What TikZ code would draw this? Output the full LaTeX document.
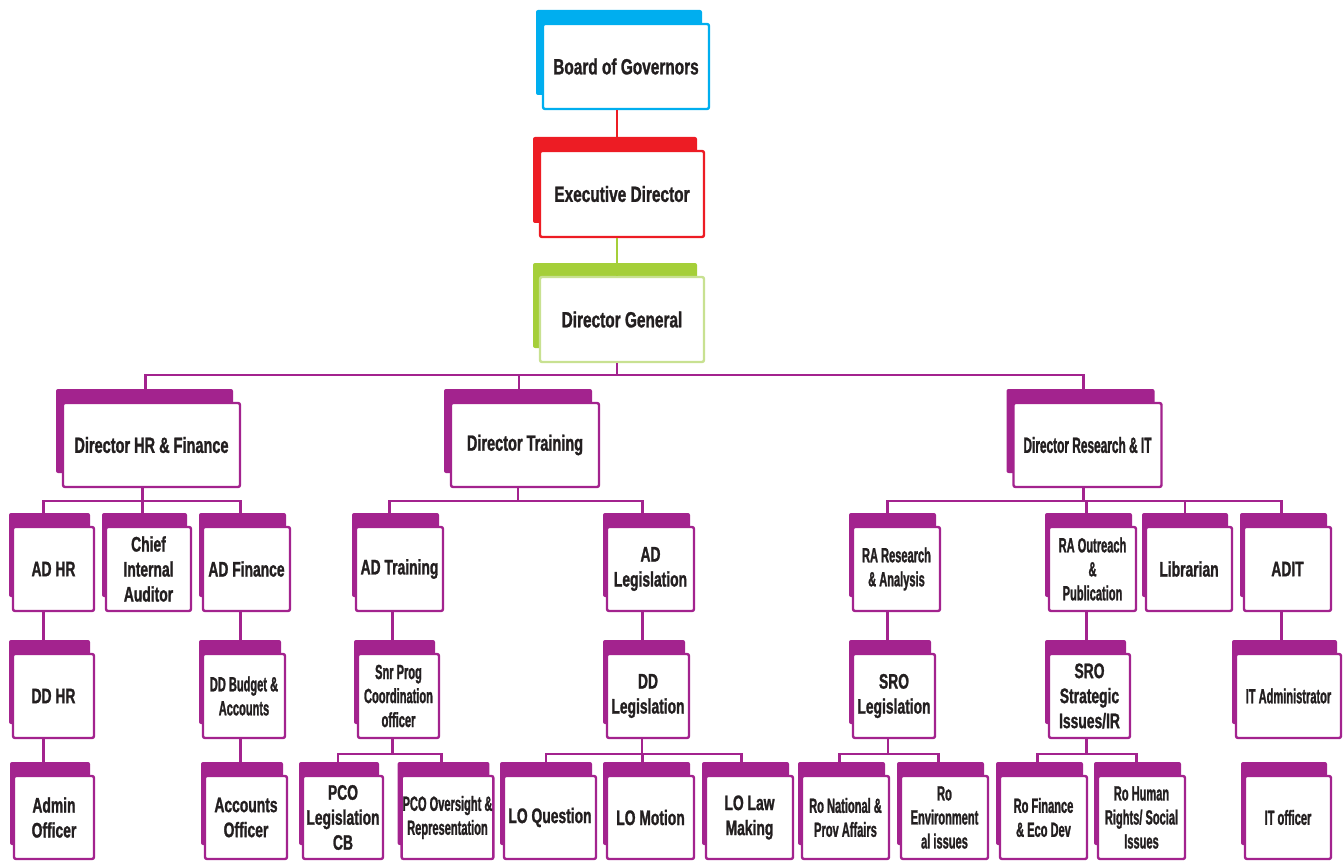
\documentclass[tikz,border=0pt]{standalone}
\usepackage{fontspec}
\setmainfont{Liberation Sans}
\newfontfamily\headfont[FakeStretch=0.70,FakeBold=1.2]{Liberation Sans}
\newfontfamily\cardfont[FakeStretch=0.66,FakeBold=1.2]{Liberation Sans}
\newfontfamily\slimfont[FakeStretch=0.54,FakeBold=1.2]{Liberation Sans}
\usetikzlibrary{shadows}
\definecolor{plum}{RGB}{163,35,142}
\definecolor{sky}{RGB}{0,174,239}
\definecolor{scarlet}{RGB}{237,28,36}
\definecolor{lime}{RGB}{165,207,57}
\definecolor{palelime}{RGB}{200,225,145}
\definecolor{ink}{RGB}{35,31,32}
\begin{document}
\begin{tikzpicture}[x=1pt,y=-1pt,
    box/.style={fill=white,line width=2.4pt,rounded corners=2pt,text=ink,align=center,inner sep=1pt},
    main/.style={box,draw=plum,minimum width=87pt,minimum height=84pt,
        font=\cardfont\bfseries\fontsize{21}{25}\selectfont,
        general shadow={fill=plum,shadow xshift=-4pt,shadow yshift=14pt}},
    slim/.style={main,font=\slimfont\bfseries\fontsize{20.5}{24}\selectfont},
    head/.style={box,minimum width=148pt,minimum height=84pt,
        font=\cardfont\bfseries\fontsize{22}{26}\selectfont,
        general shadow={fill=#1,shadow xshift=-7pt,shadow yshift=14pt}},
    top/.style={head=#1,draw=#1,font=\headfont\bfseries\fontsize{22}{26}\selectfont},
    link/.style={draw=plum,line width=2.2pt}]
    \useasboundingbox (0,0) rectangle (1344,861);
    % top of the chart
    \node[top=sky,minimum width=166pt,minimum height=85pt](bog) at (626,66.5){Board of Governors};
    \node[top=scarlet,minimum width=164pt,minimum height=86pt](exec) at (622,194){Executive Director};
    \node[top=lime,draw=palelime,minimum width=164pt,minimum height=85pt](dg) at (622,319.5){Director General};
    % directors
    \node[head=plum,draw=plum,minimum width=177pt](dhr) at (151.5,445){Director HR \& Finance};
    \node[head=plum,draw=plum](dtr) at (525,445){Director Training};
    \node[head=plum,draw=plum,font=\slimfont\bfseries\fontsize{22}{26}\selectfont](dres) at (1087.5,445){Director Research \& IT};
    % assistant directors
    \node[main,minimum width=81pt](adhr) at (53.5,569){AD HR};
    \node[main,minimum width=85pt](cia) at (148.5,569){Chief\\Internal\\Auditor};
    \node[main](adfin) at (246.5,569){AD Finance};
    \node[main](adtr) at (399.5,569){AD Training};
    \node[main](adleg) at (650.5,569){AD\\Legislation};
    \node[slim](rares) at (896.5,569){RA Research\\\& Analysis};
    \node[slim](raout) at (1092.5,569){RA Outreach\\\&\\Publication};
    \node[main,minimum width=86pt](lib) at (1189,569){Librarian};
    \node[main](adit) at (1287.5,569){ADIT};
    % deputies
    \node[main,minimum width=81pt](ddhr) at (53.5,696){DD HR};
    \node[slim,minimum width=82pt](ddbud) at (244,696){DD Budget \&\\Accounts};
    \node[slim,minimum width=81pt](snr) at (398.5,696){Snr Prog\\Coordination\\officer};
    \node[main,minimum width=82pt](ddleg) at (648,696){DD\\Legislation};
    \node[main,minimum width=82pt](sroleg) at (894,696){SRO\\Legislation};
    \node[main,minimum width=81pt](srostr) at (1089.5,696){SRO\\Strategic\\Issues/IR};
    \node[slim,minimum width=105pt](itadm) at (1288.5,696){IT Administrator};
    % officers
    \node[main,minimum width=80pt,minimum height=83pt](admin) at (54,817.5){Admin\\Officer};
    \node[main,minimum width=82pt,minimum height=83pt](accoff) at (246,817.5){Accounts\\Officer};
    \node[main,minimum width=80pt,minimum height=83pt](pcoleg) at (343,817.5){PCO\\Legislation\\CB};
    \node[slim,minimum width=91pt,minimum height=83pt](pcoov) at (447.5,817.5){PCO Oversight \&\\Representation};
    \node[main,minimum width=92pt,minimum height=83pt](loq) at (550,817.5){LO Question};
    \node[main,minimum height=83pt](lomot) at (650.5,817.5){LO Motion};
    \node[main,minimum height=83pt](lolaw) at (749.5,817.5){LO Law\\Making};
    \node[slim,minimum height=83pt](ronat) at (845.5,817.5){Ro National \&\\Prov Affairs};
    \node[slim,minimum height=83pt](roenv) at (944.5,817.5){Ro\\Environment\\al issues};
    \node[slim,minimum height=83pt](rofin) at (1043.5,817.5){Ro Finance\\\& Eco Dev};
    \node[slim,minimum height=83pt](rohum) at (1141.5,817.5){Ro Human\\Rights/ Social\\Issues};
    \node[slim,minimum width=86pt,minimum height=83pt](itoff) at (1288,817.5){IT officer};
    % connectors
    \draw[link,draw=scarlet]([xshift=-5pt]exec.north |- bog.south) -- ([xshift=-5pt]exec.north);
    \draw[link,draw=lime]([xshift=-5pt]exec.south) -- ([xshift=-5pt]dg.north);
    \draw[link]([xshift=-5pt]dg.south) -- ++(0,12) -| ([xshift=-6pt]dhr.north);
    \draw[link]([xshift=-5pt]dg.south) -- ++(0,12) -| ([xshift=-6pt]dtr.north);
    \draw[link]([xshift=-5pt]dg.south) -- ++(0,12) -| ([xshift=-4pt]dres.north);
    \draw[link]([xshift=-9pt]dhr.south) -- ++(0,13) -| ([xshift=-10pt]adhr.north);
    \draw[link]([xshift=-9pt]dhr.south) -- ++(0,13) -| ([xshift=-6pt]cia.north);
    \draw[link]([xshift=-9pt]dhr.south) -- ++(0,13) -| ([xshift=-6pt]adfin.north);
    \draw[link]([xshift=-7pt]dtr.south) -- ++(0,13) -| ([xshift=-10pt]adtr.north);
    \draw[link]([xshift=-7pt]dtr.south) -- ++(0,13) -| ([xshift=-8pt]adleg.north);
    \draw[link]([xshift=-4pt]dres.south) -- ++(0,13) -| ([xshift=-9pt]rares.north);
    \draw[link]([xshift=-4pt]dres.south) -- ++(0,13) -| ([xshift=-6pt]raout.north);
    \draw[link]([xshift=-4pt]dres.south) -- ++(0,13) -| ([xshift=-4pt]lib.north);
    \draw[link]([xshift=-4pt]dres.south) -- ++(0,13) -| ([xshift=-6pt]adit.north);
    \draw[link]([xshift=-10pt]adhr.south) -- ([xshift=-10pt]adhr.south |- ddhr.north);
    \draw[link]([xshift=-10pt]ddhr.south) -- ([xshift=-10pt]ddhr.south |- admin.north);
    \draw[link]([xshift=-6pt]adfin.south) -- ([xshift=-6pt]adfin.south |- ddbud.north);
    \draw[link]([xshift=-6pt]adfin.south |- ddbud.south) -- ([xshift=-6pt]adfin.south |- accoff.north);
    \draw[link]([xshift=-7pt]adtr.south) -- ([xshift=-7pt]adtr.south |- snr.north);
    \draw[link]([xshift=-8pt]adleg.south) -- ([xshift=-8pt]adleg.south |- ddleg.north);
    \draw[link]([xshift=-9pt]rares.south) -- ([xshift=-9pt]rares.south |- sroleg.north);
    \draw[link]([xshift=-6pt]raout.south) -- ([xshift=-6pt]raout.south |- srostr.north);
    \draw[link]([xshift=-6pt]adit.south) -- ([xshift=-6pt]adit.south |- itadm.north);
    \draw[link]([xshift=-6pt]snr.south) -- ++(0,15) -| ([xshift=-5pt]pcoleg.north);
    \draw[link]([xshift=-6pt]snr.south) -- ++(0,15) -| ([xshift=-6pt]pcoov.north);
    \draw[link]([xshift=-6pt]ddleg.south) -- ++(0,15) -| ([xshift=-4pt]loq.north);
    \draw[link]([xshift=-6pt]ddleg.south) -- ++(0,15) -| ([xshift=-8pt]lomot.north);
    \draw[link]([xshift=-6pt]ddleg.south) -- ++(0,15) -| ([xshift=-8pt]lolaw.north);
    \draw[link]([xshift=-6pt]sroleg.south) -- ++(0,15) -| ([xshift=-6pt]ronat.north);
    \draw[link]([xshift=-6pt]sroleg.south) -- ++(0,15) -| ([xshift=-6pt]roenv.north);
    \draw[link]([xshift=-3pt]srostr.south) -- ++(0,15) -| ([xshift=-6pt]rofin.north);
    \draw[link]([xshift=-3pt]srostr.south) -- ++(0,15) -| ([xshift=-5pt]rohum.north);
\end{tikzpicture}
\end{document}
